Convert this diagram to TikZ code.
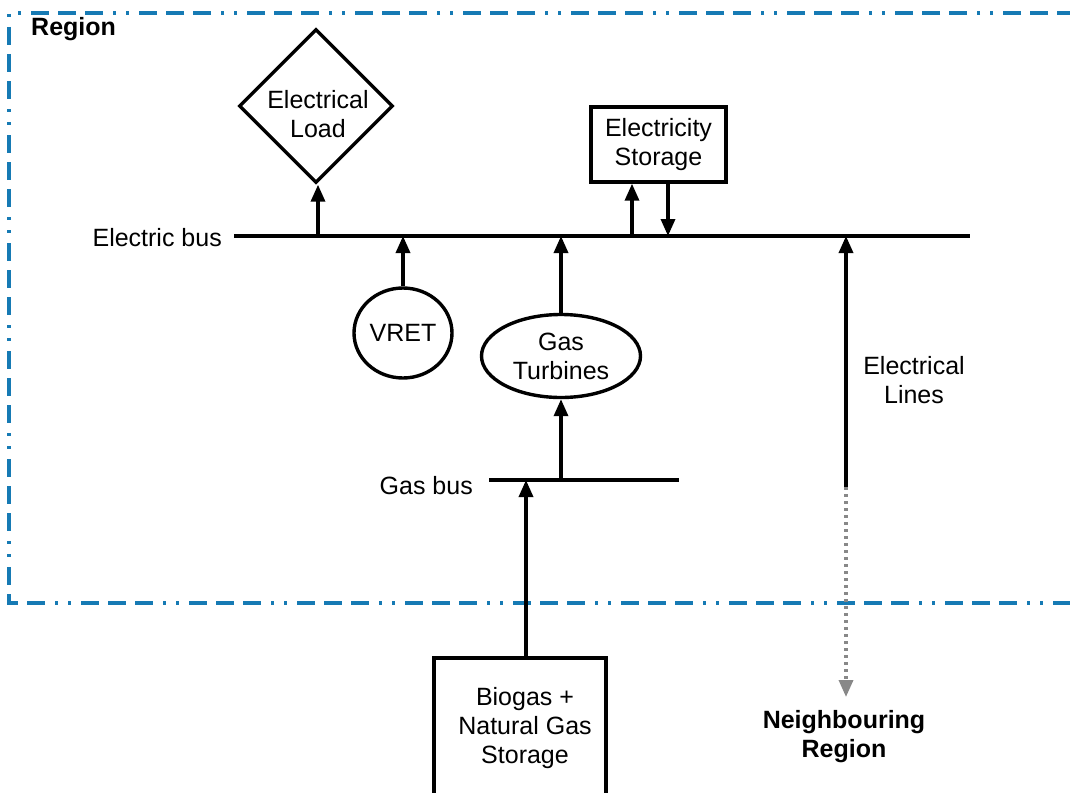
\documentclass[tikz,border=0pt]{standalone}
\usepackage{fontspec}
\setmainfont{Liberation Sans}
\usetikzlibrary{shapes.geometric,arrows.meta}
\begin{document}
\begin{tikzpicture}[x=1pt,y=-1pt,
  txt/.style={font=\fontsize{25}{29}\selectfont, align=center, inner sep=0pt},
  shp/.style={draw, line width=3.4pt, font=\fontsize{25}{29}\selectfont, align=center, inner sep=0pt},
  bus/.style={line width=3.4pt},
  arr/.style={line width=3.4pt, -{Triangle[length=17pt,width=14pt]}},
  border/.style={draw={rgb,255:red,22;green,122;blue,180}, line width=3.4pt,
    dash pattern=on 18pt off 9pt on 18pt off 9pt on 18pt off 10pt on 3pt off 10pt on 3pt off 10pt},
  dotarr/.style={draw={rgb,255:red,136;green,136;blue,136}, line width=3.4pt, dash pattern=on 3pt off 4pt,
    -{Triangle[length=17pt,width=14pt,fill={rgb,255:red,136;green,136;blue,136}]}}
]
\useasboundingbox (0,0) rectangle (1070,792);
\clip (0,0) rectangle (1070,792);
% region border
\coordinate (rtr) at (1075,13);
\coordinate (rtl) at (9,13);
\coordinate (rbl) at (9,603);
\coordinate (rbr) at (1075,603);
\draw[border] (rtr) -- (rtl) -- (rbl) -- (rbr);
\node[txt, font=\fontsize{25}{29}\selectfont\bfseries, anchor=west] (region) at (31,29) {Region};

% buses
\coordinate (eb1) at (234,236);
\coordinate (eb2) at (970,236);
\draw[bus] (eb1) -- (eb2);
\node[txt, anchor=east] (eblabel) at (222,238) {Electric bus};
\coordinate (gb1) at (489,480);
\coordinate (gb2) at (679,480);
\draw[bus] (gb1) -- (gb2);
\node[txt, anchor=east] (gblabel) at (473,486) {Gas bus};

% nodes
\node[shp, diamond, minimum width=154pt, minimum height=154pt] (load) at (316,106) {};
\node[txt] (loadtxt) at (318,114) {Electrical\\Load};
\node[shp, rectangle, minimum width=135pt, minimum height=75pt] (stor) at (658.5,144.5) {Electricity\\Storage};
\node[shp, ellipse, minimum width=98pt, minimum height=90pt] (vret) at (403,333) {VRET};
\node[shp, ellipse, minimum width=159pt, minimum height=83pt] (gt) at (561,356) {Gas\\Turbines};
\node[shp, rectangle, minimum width=172pt, minimum height=140pt] (bio) at (520,728) {};
\node[txt] (biotxt) at (525,728) {Biogas +\\Natural Gas\\Storage};
\node[txt] (lines) at (914,380) {Electrical\\Lines};
\node[txt, font=\fontsize{25}{29}\selectfont\bfseries] (nbr) at (844,737) {Neighbouring\\Region};

% connectors
\draw[arr] (318,236) -- (load.south -| 318,0);
\draw[arr] (vret.north) -- (vret.north |- eb1);
\draw[arr] (gt.north) -- (gt.north |- eb1);
\draw[arr] (gt.south |- gb1) -- (gt.south);
\draw[arr] (632,236) -- (stor.south -| 632,0);
\draw[arr] (stor.south -| 668,0) -- (668,236);
\draw[arr] (bio.north -| 526,0) -- (526,480);
\coordinate (elb) at (846,487);
\draw[arr] (elb) -- (elb |- eb1);
\coordinate (elend) at (846,697);
\draw[dotarr] (elb) -- (elend);
\end{tikzpicture}
\end{document}
